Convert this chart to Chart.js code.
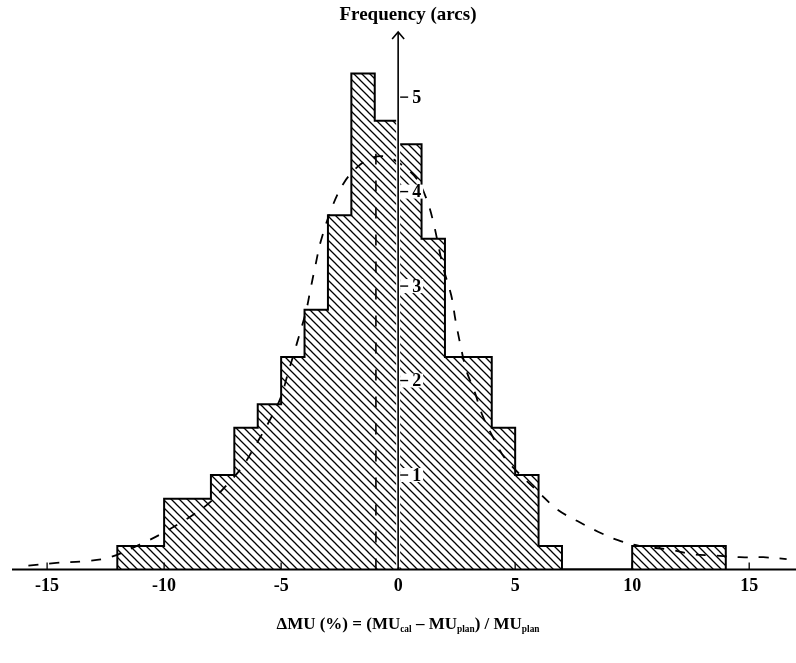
<!DOCTYPE html>
<html>
<head>
<meta charset="utf-8">
<script src="https://cdn.jsdelivr.net/npm/chart.js@4.4.1/dist/chart.umd.min.js"></script>
<style>
  html, body { margin: 0; padding: 0; background: #fff; }
  #wrap { position: relative; width: 796px; height: 663px; }
  #chart { display: block; }
  .label { position: absolute; font-family: 'Liberation Serif', 'Times New Roman', serif; font-weight: bold; color: #000; white-space: nowrap; transform: translateX(-50%); }
  #y-title { left: 408px; top: 3px; font-size: 19px; }
  #x-title { left: 408px; top: 614px; font-size: 17px; }
  #x-title sub { font-size: 0.55em; vertical-align: -0.35em; }
</style>
</head>
<body>
<div id="wrap">
  <canvas id="chart" width="796" height="663"></canvas>
  <div class="label" id="y-title">Frequency (arcs)</div>
  <div class="label" id="x-title">&Delta;MU (%) = (MU<sub>cal</sub> &ndash; MU<sub>plan</sub>) / MU<sub>plan</sub></div>
</div>
<script>
// histogram bins
const binStarts = [-12, -10, -8, -7, -6, -5, -4, -3, -2, -1, 0, 1, 2, 4, 5, 6, 10];
const binEnds = [-10, -8, -7, -6, -5, -4, -3, -2, -1, 0, 1, 2, 4, 5, 6, 7, 14];
const binHeights = [0.25, 0.75, 1, 1.5, 1.75, 2.25, 2.75, 3.75, 5.25, 4.75, 4.5, 3.5, 2.25, 1.5, 1, 0.25, 0.25];

// fitted curve (dashed)
const fitX = [-15.8, -14.6, -13.3, -12.3, -10.9, -10.1, -9.0, -8.1, -7.3, -6.65, -6.2, -5.8, -5.4, -5.0, -4.75,
  -4.5, -4.2, -3.92, -3.75, -3.55, -3.3, -2.8, -2.3, -1.7, -1.1, -0.5, 0.06, 0.78, 1.2, 1.5, 1.92, 2.27,
  2.45, 2.65, 2.91, 3.27, 3.62, 4.12, 4.62, 6.12, 6.83, 7.68, 8.54, 9.39, 10.3, 11.6, 12.6, 13.45, 14.6, 15.6, 16.6];
const fitY = [0.04, 0.07, 0.09, 0.13, 0.28, 0.38, 0.54, 0.70, 0.90, 1.09, 1.27, 1.44, 1.62, 1.83, 2.04,
  2.25, 2.5, 2.75, 2.96, 3.2, 3.48, 3.85, 4.1, 4.27, 4.36, 4.37, 4.30, 4.14, 3.93, 3.68, 3.2, 2.9,
  2.64, 2.39, 2.11, 1.88, 1.62, 1.37, 1.16, 0.79, 0.63, 0.51, 0.40, 0.31, 0.25, 0.21, 0.16, 0.15, 0.13, 0.13, 0.11];

// mean marker
const meanX = -0.95;
const meanTop = 4.4;

const xTicks = [-15, -10, -5, 0, 5, 10, 15];
const xTickLabels = ['-15', '-10', '-5', '0', '5', '10', '15'];
const yTicks = [1, 2, 3, 4, 5];
const yTickLabels = ['1', '2', '3', '4', '5'];

const serif = "'Liberation Serif', 'Times New Roman', serif";

function makeHatch() {
  const size = 8;
  const c = document.createElement('canvas');
  c.width = size;
  c.height = size;
  const g = c.getContext('2d');
  g.strokeStyle = '#000';
  g.lineWidth = 1.3;
  g.beginPath();
  g.moveTo(-1, -1);
  g.lineTo(size + 1, size + 1);
  g.moveTo(-1, size - 1);
  g.lineTo(1, size + 1);
  g.moveTo(size - 1, -1);
  g.lineTo(size + 1, 1);
  g.stroke();
  return g.createPattern(c, 'repeat');
}

// outline of the histogram as a stepped line
const histPoints = [];
binStarts.forEach((start, i) => {
  const prevEnd = i > 0 ? binEnds[i - 1] : null;
  if (prevEnd !== start) {
    if (prevEnd !== null) histPoints.push({ x: prevEnd, y: 0 });
    histPoints.push({ x: start, y: 0 });
  }
  histPoints.push({ x: start, y: binHeights[i] });
});
histPoints.push({ x: binEnds[binEnds.length - 1], y: 0 });

const fitPoints = fitX.map((x, i) => ({ x, y: fitY[i] }));

const axesPlugin = {
  id: 'centerAxes',
  afterDatasetsDraw(chart) {
    const { ctx, chartArea, scales: { x, y } } = chart;
    const x0 = x.getPixelForValue(0);
    const yBase = y.getPixelForValue(0);
    ctx.save();

    // baseline
    ctx.strokeStyle = '#000';
    ctx.lineWidth = 2;
    ctx.beginPath();
    ctx.moveTo(chartArea.left, yBase);
    ctx.lineTo(chartArea.right, yBase);
    ctx.stroke();

    // inward x ticks
    ctx.lineWidth = 1.3;
    xTicks.forEach((v) => {
      const px = x.getPixelForValue(v);
      ctx.beginPath();
      ctx.moveTo(px, yBase);
      ctx.lineTo(px, yBase - 7);
      ctx.stroke();
    });

    // vertical axis with arrow
    ctx.strokeStyle = '#fff';
    ctx.lineWidth = 4;
    ctx.beginPath();
    ctx.moveTo(x0, yBase - 2);
    ctx.lineTo(x0, chartArea.top + 4);
    ctx.stroke();
    ctx.strokeStyle = '#000';
    ctx.lineWidth = 1.6;
    ctx.beginPath();
    ctx.moveTo(x0, yBase);
    ctx.lineTo(x0, chartArea.top + 1);
    ctx.stroke();
    ctx.beginPath();
    ctx.moveTo(x0 - 6, chartArea.top + 8);
    ctx.lineTo(x0, chartArea.top + 1);
    ctx.lineTo(x0 + 6, chartArea.top + 8);
    ctx.stroke();

    // y ticks and labels right of the axis
    ctx.font = 'bold 18px ' + serif;
    ctx.textAlign = 'left';
    ctx.textBaseline = 'middle';
    yTicks.forEach((v, i) => {
      const py = y.getPixelForValue(v);
      const w = ctx.measureText(yTickLabels[i]).width;
      ctx.fillStyle = '#fff';
      ctx.fillRect(x0 + 2, py - 7, 14 + w, 14);
      ctx.strokeStyle = '#000';
      ctx.lineWidth = 1.4;
      ctx.beginPath();
      ctx.moveTo(x0 + 2, py);
      ctx.lineTo(x0 + 10, py);
      ctx.stroke();
      ctx.fillStyle = '#000';
      ctx.fillText(yTickLabels[i], x0 + 14, py + 1);
    });

    ctx.restore();
  }
};

new Chart(document.getElementById('chart'), {
  type: 'line',
  data: {
    datasets: [
      {
        label: 'fit',
        data: fitPoints,
        borderColor: '#000',
        borderWidth: 1.8,
        borderDash: [10, 11],
        pointRadius: 0,
        tension: 0.35,
        fill: false,
      },
      {
        label: 'mean',
        data: [{ x: meanX, y: 0 }, { x: meanX, y: meanTop }],
        borderColor: '#000',
        borderWidth: 1.6,
        borderDash: [11, 16],
        pointRadius: 0,
        fill: false,
      },
      {
        label: 'arcs',
        data: histPoints,
        stepped: 'before',
        borderColor: '#000',
        borderWidth: 2,
        backgroundColor: makeHatch(),
        pointRadius: 0,
        fill: 'origin',
      },
    ],
  },
  options: {
    responsive: false,
    animation: false,
    layout: { padding: { top: 31, left: 12, right: 0, bottom: 53.5 } },
    plugins: {
      legend: { display: false },
      tooltip: { enabled: false },
    },
    scales: {
      x: {
        type: 'linear',
        min: -16.5,
        max: 17,
        afterBuildTicks(scale) {
          scale.ticks = xTicks.map((v) => ({ value: v }));
        },
        afterFit(scale) {
          scale.height = 40;
        },
        ticks: {
          autoSkip: false,
          maxRotation: 0,
          padding: 6,
          color: '#000',
          font: { family: serif, size: 18, weight: 'bold' },
          callback(value, index) {
            return xTickLabels[index];
          },
        },
        grid: { display: false, drawTicks: false },
        border: { display: false },
      },
      y: {
        display: false,
        min: 0,
        max: 5.7,
      },
    },
  },
  plugins: [axesPlugin],
});
</script>
</body>
</html>
